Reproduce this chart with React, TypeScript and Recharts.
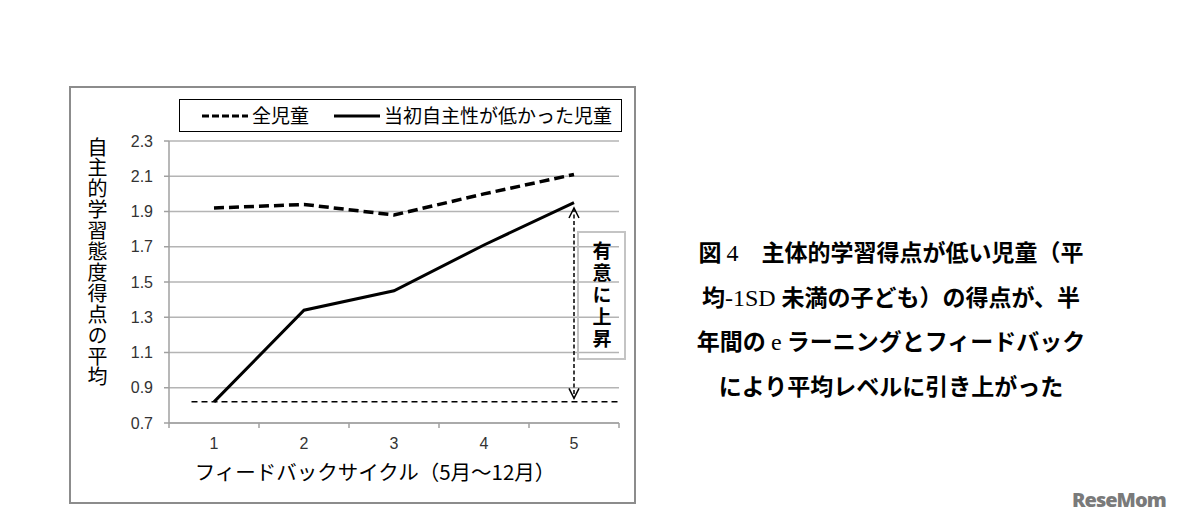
import React from 'react';
import { LineChart, Line, XAxis, YAxis, CartesianGrid, Legend, ReferenceLine } from 'recharts';

// ---- data ----
const cycles = [1, 2, 3, 4, 5];
const allChildren = [1.92, 1.94, 1.88, 2.0, 2.11];
const lowChildren = [0.82, 1.34, 1.45, 1.71, 1.95];
const yTicks = [0.7, 0.9, 1.1, 1.3, 1.5, 1.7, 1.9, 2.1, 2.3];
const xTicks = [0.5, 1, 1.5, 2, 2.5, 3, 3.5, 4, 4.5, 5, 5.5];
const seriesNames = ['全児童', '当初自主性が低かった児童'];
const yAxisTitle = '自主的学習態度得点の平均';
const xAxisTitle = 'フィードバックサイクル（5月～12月）';
const baselineValue = 0.82;
const baselineRange = [0.75, 5.5];
const arrowCycle = 5;
const arrowRange = [0.84, 1.92];
const noteText = '有意に上昇';
const captionLines: { t: string; serif?: boolean }[][] = [
  [{ t: '図 ' }, { t: '4', serif: true }, { t: '　主体的学習得点が低い児童（平' }],
  [{ t: '均' }, { t: '-1SD ', serif: true }, { t: '未満の子ども）の得点が、半' }],
  [{ t: '年間の ' }, { t: 'e', serif: true }, { t: ' ラーニングとフィードバック' }],
  [{ t: 'により平均レベルに引き上がった' }],
];
const watermark = 'ReseMom';

const data = cycles.map((c, i) => ({ cycle: c, all: allChildren[i], low: lowChildren[i] }));

// ---- styles ----
const JP = '"Noto Sans CJK JP", "Noto Sans", sans-serif';
const GRID = '#b4b4b4';
const AXIS = '#a0a0a0';
const dashes = ['10 5', undefined];
const legendDashes = ['7 3', undefined];

const XTick = (props: any) => {
  const { x, y, payload } = props;
  const v = payload.value;
  if (Number.isInteger(v)) {
    return (
      <text x={x} y={y + 21} textAnchor="middle" fontSize={16} fill="#333" fontFamily="Liberation Sans, sans-serif">
        {v}
      </text>
    );
  }
  return <line x1={x} y1={y - 5} x2={x} y2={y} stroke={AXIS} strokeWidth={1.5} />;
};

const ArrowShape = (p: any) => {
  const x = p.x1;
  const top = Math.min(p.y1, p.y2);
  const bot = Math.max(p.y1, p.y2);
  return (
    <g>
      <line x1={x} y1={top} x2={x} y2={bot} stroke="#000" strokeWidth={1.5} strokeDasharray="4 2.5" />
      <polyline points={`${x - 5},${top + 10} ${x},${top} ${x + 5},${top + 10}`} fill="none" stroke="#000" strokeWidth={1.5} />
      <polyline points={`${x - 5},${bot - 10} ${x},${bot} ${x + 5},${bot - 10}`} fill="none" stroke="#000" strokeWidth={1.5} />
    </g>
  );
};

const renderLegend = (props: any) => {
  const payload = props.payload || [];
  const items = [
    { lx1: 22, lx2: 68, tx: 72 },
    { lx1: 154, lx2: 200, tx: 204 },
  ];
  return (
    <svg width={440} height={30} style={{ display: 'block' }}>
      {payload.map((entry: any, i: number) => (
        <g key={i}>
          <line
            x1={items[i].lx1}
            x2={items[i].lx2}
            y1={16}
            y2={16}
            stroke="#000"
            strokeWidth={3}
            strokeDasharray={legendDashes[i]}
          />
          <text x={items[i].tx} y={22.5} fontSize={19} fontFamily={JP} fill="#000">
            {entry.value}
          </text>
        </g>
      ))}
    </svg>
  );
};

const XLabel = (props: any) => {
  const vb = props.viewBox || {};
  return (
    <text x={vb.x + vb.width / 2 - 19} y={vb.y + 57} textAnchor="middle" fontSize={20.5} fontFamily={JP} fill="#000">
      {xAxisTitle}
    </text>
  );
};

export default function App() {
  return (
    <div style={{ position: 'absolute', left: 0, top: 0, width: 1178, height: 524, background: '#fff', overflow: 'hidden' }}>
      {/* chart frame */}
      <div
        style={{
          position: 'absolute',
          left: 69,
          top: 86,
          width: 567,
          height: 418,
          border: '2px solid #8c8c8c',
          boxSizing: 'border-box',
        }}
      />
      <div style={{ position: 'absolute', left: 0, top: 0 }}>
        <LineChart width={1178} height={524} data={data} margin={{ top: 141, right: 559, bottom: 61, left: 109 }}>
          <CartesianGrid horizontal vertical={false} stroke={GRID} strokeWidth={1.5} />
          <XAxis
            dataKey="cycle"
            type="number"
            domain={[0.5, 5.5]}
            ticks={xTicks}
            interval={0}
            tick={<XTick />}
            tickLine={false}
            tickSize={5}
            tickMargin={0}
            axisLine={{ stroke: AXIS, strokeWidth: 1.5 }}
            height={40}
            label={<XLabel />}
          />
          <YAxis
            type="number"
            domain={[0.7, 2.3]}
            ticks={yTicks}
            interval={0}
            width={60}
            tickFormatter={(v: number) => v.toFixed(1)}
            tick={{ fontSize: 16, fill: '#333', fontFamily: 'Liberation Sans, sans-serif' }}
            tickSize={5}
            tickMargin={11}
            tickLine={{ stroke: AXIS, strokeWidth: 1.5 }}
            axisLine={{ stroke: AXIS, strokeWidth: 1.5 }}
          />
          <Legend
            layout="horizontal"
            verticalAlign="middle"
            align="center"
            content={renderLegend}
            wrapperStyle={{
              position: 'absolute',
              left: 179,
              top: 99,
              width: 443,
              height: 33,
              border: '1.5px solid #000',
              boxSizing: 'border-box',
              background: '#fff',
            }}
          />
          <Line
            type="linear"
            dataKey="all"
            name={seriesNames[0]}
            stroke="#000"
            strokeWidth={3.5}
            strokeDasharray={dashes[0]}
            dot={false}
            activeDot={false}
            isAnimationActive={false}
          />
          <Line
            type="linear"
            dataKey="low"
            name={seriesNames[1]}
            stroke="#000"
            strokeWidth={3}
            dot={false}
            activeDot={false}
            isAnimationActive={false}
          />
          <ReferenceLine
            segment={[
              { x: baselineRange[0], y: baselineValue },
              { x: baselineRange[1], y: baselineValue },
            ]}
            stroke="#000"
            strokeWidth={1.5}
            strokeDasharray="6 4"
            ifOverflow="visible"
          />
          <ReferenceLine
            segment={[
              { x: arrowCycle, y: arrowRange[0] },
              { x: arrowCycle, y: arrowRange[1] },
            ]}
            ifOverflow="visible"
            shape={(p: any) => <ArrowShape {...p} />}
          />
        </LineChart>
      </div>
      {/* y axis title */}
      <div
        style={{
          position: 'absolute',
          left: 85,
          top: 137,
          width: 24,
          writingMode: 'vertical-rl',
          textOrientation: 'upright',
          fontFamily: JP,
          fontSize: 20,
          letterSpacing: '0.9px',
          lineHeight: '24px',
          color: '#000',
        }}
      >
        {yAxisTitle}
      </div>
      {/* significance note */}
      <div
        style={{
          position: 'absolute',
          left: 577,
          top: 231,
          width: 49,
          height: 129,
          border: '2px solid #c4c4c4',
          boxSizing: 'border-box',
          display: 'flex',
          alignItems: 'center',
          justifyContent: 'center',
        }}
      >
        <div
          style={{
            writingMode: 'vertical-rl',
            textOrientation: 'upright',
            fontFamily: JP,
            fontWeight: 700,
            fontSize: 19,
            letterSpacing: '3px',
            lineHeight: '22px',
            color: '#000',
          }}
        >
          {noteText}
        </div>
      </div>
      {/* caption */}
      <div
        style={{
          position: 'absolute',
          left: 640,
          top: 229,
          width: 502,
          textAlign: 'center',
          fontFamily: JP,
          fontWeight: 700,
          fontSize: 23,
          lineHeight: '45px',
          color: '#000',
        }}
      >
        {captionLines.map((line, i) => (
          <div key={i} style={{ whiteSpace: 'pre', height: 44.7, overflow: 'visible' }}>
            {line.map((s, j) => (
              <span
                key={j}
                style={
                  s.serif
                    ? { fontFamily: '"Liberation Serif", serif', fontWeight: 400, fontSize: 24, lineHeight: '20px' }
                    : undefined
                }
              >
                {s.t}
              </span>
            ))}
          </div>
        ))}
      </div>
      {/* watermark */}
      <div
        style={{
          position: 'absolute',
          left: 1072,
          top: 486,
          fontFamily: '"Open Sans", sans-serif',
          fontWeight: 800,
          fontSize: 20,
          color: '#7a7a7a',
          letterSpacing: '-1px',
        }}
      >
        {watermark}
      </div>
    </div>
  );
}
